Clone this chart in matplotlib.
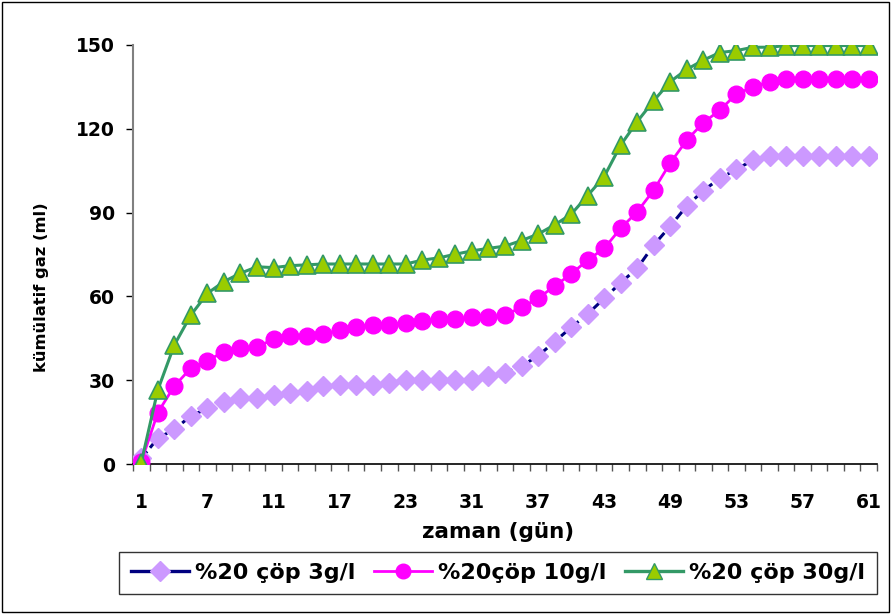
import numpy as np
import matplotlib
matplotlib.use("Agg")
import matplotlib.pyplot as plt
import matplotlib.transforms as mtransforms
from matplotlib.lines import Line2D
from matplotlib.patches import Rectangle

# ===============================
# DATA
# ===============================
days = [1, 2, 4, 5, 7, 8, 9, 10, 11, 12, 14, 15, 17, 18, 20, 22, 23,
        25, 27, 29, 31, 32, 34, 35, 37, 38, 40, 41, 43, 44, 46, 47, 49,
        50, 51, 52, 53, 54, 55, 56, 57, 58, 59, 60, 61]

gas_3g = [2, 9.2, 12.4, 17.2, 19.9, 22.3, 23.5, 23.5, 24.7, 25.3, 26,
          27.9, 28.3, 28.3, 28.3, 29.1, 30.1, 30.1, 30.1, 30.1, 30.1,
          31.4, 32.5, 35.1, 38.7, 43.8, 48.9, 53.7, 59.3, 64.9, 70.1,
          78.4, 85.2, 92.4, 97.9, 102.3, 105.5, 108.8, 110.3, 110.3,
          110.3, 110.3, 110.3, 110.3, 110.3]

gas_10g = [0.8, 18.4, 27.9, 34.3, 37.0, 40.2, 41.4, 42.0, 44.6, 45.8,
           45.8, 46.5, 48.0, 49.2, 49.8, 49.8, 50.6, 51.2, 51.8, 51.8,
           52.5, 52.5, 53.3, 56.1, 59.3, 63.7, 68.0, 73.0, 77.2, 84.4,
           90.3, 98.1, 107.8, 116.0, 122.2, 126.7, 132.5, 134.9, 136.9,
           137.7, 137.7, 137.7, 137.7, 137.7, 137.7]

gas_30g = [0.5, 26.5, 42.6, 53.3, 61.1, 65.3, 68.3, 70.6, 70.3, 71.0,
           71.3, 71.6, 71.6, 71.6, 71.6, 71.6, 71.6, 73.0, 73.8, 75.1,
           76.3, 77.2, 78.0, 80.0, 82.3, 85.6, 89.4, 96.1, 102.9, 114.2,
           122.6, 130.1, 136.9, 141.3, 144.6, 147.3, 148.0, 149.2, 149.2,
           149.8, 149.8, 149.8, 149.8, 149.8, 149.8]

labels = ["%20 çöp 3g/l", "%20çöp 10g/l", "%20 çöp 30g/l"]
yticks = [0, 30, 60, 90, 120, 150]

# ===============================
# PLOT
# ===============================
plt.rcParams["font.family"] = ["DejaVu Sans"]
plt.rcParams["font.weight"] = "bold"

W, H = 891, 614
fig = plt.figure(figsize=(W / 100, H / 100), dpi=100)
ax = fig.add_axes([133 / W, 1 - 464 / H, 744 / W, 419 / H])

x = np.arange(len(days))

ax.plot(x, gas_3g, color="#000080", lw=2.2, ls=(0, (3, 1.5)),
        marker="D", ms=10, mfc="#CC99FF", mec="#CC99FF", zorder=3)
ax.plot(x, gas_10g, color="#FF00FF", lw=2.0,
        marker="o", ms=12, mfc="#FF00FF", mec="#FF00FF", zorder=3)
ax.plot(x, gas_30g, color="#339966", lw=2.2,
        marker="^", ms=12.5, mfc="#99CC00", mec="#339966", mew=1.2, zorder=4)

ax.set_xlim(-0.5, len(days) - 0.5)
ax.set_ylim(0, 150)

# tick marks at category borders, labels every 4th category
ax.set_xticks(np.arange(len(days) + 1) - 0.5)
ax.set_xticklabels([])
ax.tick_params(axis="x", length=5, width=1, color="#555555", direction="out")
xlab_tr = mtransforms.blended_transform_factory(ax.transData, fig.transFigure)
for xi, d in zip(x[::4], days[::4]):
    ax.text(xi, 1 - 508 / H, str(d), transform=xlab_tr, fontsize=13.5,
            fontweight="bold", ha="center", va="baseline")

ax.set_yticks(yticks)
ax.tick_params(axis="y", length=5, width=1, direction="out", labelsize=13.5,
               pad=8)
for lab in ax.get_yticklabels():
    lab.set_fontweight("bold")

ax.spines["top"].set_visible(False)
ax.spines["right"].set_visible(False)
ax.spines["left"].set_color("#808080")
ax.spines["left"].set_linewidth(1.5)
ax.spines["bottom"].set_color("black")
ax.spines["bottom"].set_linewidth(1.2)

fig.text(498 / W, 1 - 538 / H, "zaman (gün)", fontsize=15.5,
         fontweight="bold", ha="center", va="baseline")
fig.text(42 / W, 1 - 287 / H, "kümülatif gaz (ml)", fontsize=11.8,
         fontweight="bold", ha="center", va="center", rotation=90)

# legend with solid sample lines
handles = [
    Line2D([], [], color="#000080", lw=2.4, marker="D", ms=10,
           mfc="#CC99FF", mec="#CC99FF"),
    Line2D([], [], color="#FF00FF", lw=2.0, marker="o", ms=10.5,
           mfc="#FF00FF", mec="#FF00FF"),
    Line2D([], [], color="#339966", lw=2.4, marker="^", ms=11.5,
           mfc="#99CC00", mec="#339966"),
]
leg = fig.legend(handles, labels, loc="center", ncol=3,
                 bbox_to_anchor=(498 / W, 1 - 573 / H),
                 prop={"size": 16, "weight": "bold"}, frameon=True,
                 fancybox=False, edgecolor="black", handlelength=2.65,
                 handletextpad=0.27, columnspacing=0.8, borderpad=0.5)
leg.get_frame().set_linewidth(1.0)

# outer chart border
fig.patches.append(Rectangle((0.002, 0.003), 0.996, 0.994,
                             transform=fig.transFigure, fill=False,
                             edgecolor="black", lw=1.0))

fig.savefig("out.png", dpi=100)
